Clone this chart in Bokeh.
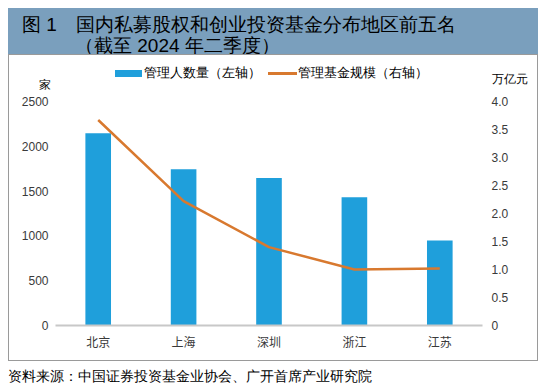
from bokeh.plotting import figure
from bokeh.models import (Range1d, LinearAxis, FixedTicker, FactorRange, ColumnDataSource,
                          Div, CustomJSTickFormatter)
from bokeh.layouts import column
from bokeh.embed import file_html
from bokeh.resources import INLINE

# ---- data ----
regions = ["北京", "上海", "深圳", "浙江", "江苏"]
managers = [2145, 1745, 1645, 1430, 950]          # 管理人数量（家，左轴）
fund_scale = [3.67, 2.22, 1.40, 1.00, 1.02]        # 管理基金规模（万亿元，右轴）
left_ticks = [0, 500, 1000, 1500, 2000, 2500]
right_ticks = [0, 0.5, 1.0, 1.5, 2.0, 2.5, 3.0, 3.5, 4.0]

title_line1_a = "图 1"
title_line1_b = "国内私募股权和创业投资基金分布地区前五名"
title_line2 = "（截至 2024 年二季度）"
legend_bar = "管理人数量（左轴）"
legend_line = "管理基金规模（右轴）"
left_unit = "家"
right_unit = "万亿元"
source_text = "资料来源：中国证券投资基金业协会、广开首席产业研究院"

CJK = "'Noto Sans CJK SC'"
NUM = "Liberation Sans"
BAR_C = "#1f9fdb"
LINE_C = "#d8792f"
BAND_C = "#7a9fbd"
TXT_C = "#3a3a3a"
BORDER_C = "#9a9a9a"


def span(text, left, cy, size, color=TXT_C, lh=None, center=False):
    lh = lh or size + 2
    top = cy - lh / 2
    extra = "transform:translateX(-50%);" if center else ""
    return (f"<span style='position:absolute;left:{left}px;top:{top}px;line-height:{lh}px;"
            f"font-size:{size}px;font-family:{CJK};color:{color};white-space:nowrap;{extra}'>"
            f"{text}</span>")


# ---- title band (page x 8..538, y 8..54) ----
title_html = (f"<div style='position:relative;width:530px;height:46px;background:{BAND_C};'>"
              + span(title_line1_a, 14, 16, 19, "white")
              + span(title_line1_b, 68, 16, 19, "white")
              + span(title_line2, 67, 37, 19, "white")
              + "</div>")
title_div = Div(text=title_html, width=530, height=46, margin=(8, 0, 0, 8))

# ---- legend row inside the bordered box (page x 9..537, y 55..89) ----
legend_html = ("<div style='position:relative;width:528px;height:34px;background:white;'>"
               f"<span style='position:absolute;left:106px;top:15px;width:27px;height:7px;background:{BAR_C};'></span>"
               + span(legend_bar, 135, 18, 12.5)
               + f"<span style='position:absolute;left:259px;top:17px;width:29px;height:2.5px;background:{LINE_C};'></span>"
               + span(legend_line, 289, 18, 12.5)
               + span(left_unit, 30, 30, 12, center=True)
               + span(right_unit, 483, 24, 12)
               + "</div>")
legend_div = Div(text=legend_html, width=528, height=34, margin=(0, 0, 0, 0))

# ---- chart (page x 9..537, y 89..360) ----
src = ColumnDataSource(dict(x=regions, m=managers, s=fund_scale))

p = figure(width=528, height=271, x_range=FactorRange(*regions),
           y_range=Range1d(0, 2500), output_backend="svg", toolbar_location=None,
           min_border_left=46, min_border_right=55, min_border_top=12, min_border_bottom=35,
           margin=(0, 0, 0, 0))
p.extra_y_ranges = {"right": Range1d(0, 4)}
p.outline_line_color = None
p.xgrid.grid_line_color = None
p.ygrid.grid_line_color = None
p.background_fill_color = "white"
p.border_fill_color = "white"

la = p.yaxis[0]
la.ticker = FixedTicker(ticks=left_ticks)
la.axis_line_color = None
la.major_tick_line_color = None
la.minor_tick_line_color = None
la.major_tick_out = 0
la.major_label_standoff = 7
la.major_label_text_font = NUM
la.major_label_text_font_size = "12px"
la.major_label_text_color = TXT_C

ra = LinearAxis(y_range_name="right", ticker=FixedTicker(ticks=right_ticks),
                formatter=CustomJSTickFormatter(code="return tick == 0 ? '0' : tick.toFixed(1);"))
ra.axis_line_color = None
ra.major_tick_line_color = None
ra.minor_tick_line_color = None
ra.major_tick_out = 0
ra.major_label_standoff = 9
ra.major_label_text_font = NUM
ra.major_label_text_font_size = "12px"
ra.major_label_text_color = TXT_C
p.add_layout(ra, "right")

xa = p.xaxis[0]
xa.axis_line_color = "#c8c8c8"
xa.axis_line_width = 2
xa.major_tick_line_color = None
xa.minor_tick_line_color = None
xa.major_tick_out = 0
xa.major_label_standoff = 7
xa.major_label_text_font = "Noto Sans CJK SC"
xa.major_label_text_font_size = "12px"
xa.major_label_text_color = TXT_C

p.vbar(x="x", top="m", width=0.3, source=src, color=BAR_C, line_color=None)
p.line(x="x", y="s", source=src, y_range_name="right", line_color=LINE_C, line_width=2.5)

box = column(legend_div, p, margin=(0, 0, 0, 8),
             styles={"border": f"1px solid {BORDER_C}", "background": "white"})

source_html = ("<div style='position:relative;width:540px;height:30px;'>"
               + span(source_text, 0, 15, 14.2)
               + "</div>")
source_div = Div(text=source_html, width=540, height=30, margin=(0, 0, 0, 8))

layout = column(title_div, box, source_div, margin=(0, 0, 0, 0))

open("out.html", "w").write(file_html(layout, INLINE))
